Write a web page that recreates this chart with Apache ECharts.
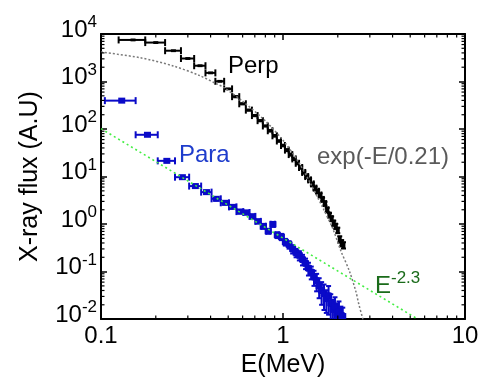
<!DOCTYPE html>
<html>
<head>
<meta charset="utf-8">
<script src="https://cdn.jsdelivr.net/npm/echarts@6/dist/echarts.min.js"></script>
<style>html,body{margin:0;padding:0;background:#fff}#c{width:486px;height:383px}</style>
</head>
<body>
<div id="c"></div>
<script>
// ---- data ----
const xTickLabels = ['0.1', '1', '10'];
const yTickExps = ['-2', '-1', '0', '1', '2', '3', '4'];
const minorMults = [2, 3, 4, 5, 6, 7, 8, 9];

const perpE = [0.15,0.20,0.25,0.30,0.35,0.40,0.45,0.50,0.55,0.60,0.65,0.70,0.75,0.80,0.85,0.90,0.95,1.00,1.05,1.10,1.15,1.20,1.25,1.30,1.35,1.40,1.45,1.50,1.55,1.60,1.65,1.70,1.75,1.80,1.85,1.90,1.95,2.00,2.05,2.10,2.15];
const perpF = [7500,6600,4450,3050,2150,1520,1010,700,480,340,250,192,150,116,92,72,56,45,36,29,23.5,19,15.5,12.2,10,8.5,7.0,5.7,4.9,4.1,3.3,2.7,2.0,1.55,1.3,1.05,0.9,0.74,0.48,0.40,0.36];
const perpErr = [0.02,0.02,0.02,0.02,0.02,0.02,0.02,0.02,0.03,0.03,0.03,0.03,0.03,0.03,0.04,0.04,0.04,0.04,0.05,0.05,0.05,0.05,0.06,0.06,0.06,0.07,0.07,0.08,0.08,0.08,0.09,0.09,0.10,0.10,0.11,0.12,0.12,0.13,0.15,0.15,0.15];

const paraE = [0.13,0.18,0.23,0.28,0.33,0.38,0.43,0.48,0.53,0.58,0.63,0.68,0.73,0.78,0.83,0.88,0.93,0.98,1.03,1.08,1.13,1.18,1.23,1.28,1.33,1.38,1.43,1.48,1.53,1.58,1.63,1.68,1.73,1.78,1.83,1.88,1.93,1.98,2.03,2.08,2.13];
const paraF = [396,75.7,21.4,9.7,6.3,4.7,3.4,2.8,2.3,1.83,1.75,1.45,1.14,0.90,0.71,0.99,0.59,0.54,0.42,0.37,0.30,0.25,0.22,0.18,0.15,0.118,0.098,0.077,0.064,0.050,0.040,0.0345,0.027,0.031,0.0215,0.016,0.018,0.0134,0.0147,0.0122,0.0116];
const paraErr = [0.05,0.05,0.06,0.06,0.07,0.07,0.08,0.08,0.08,0.09,0.09,0.10,0.10,0.12,0.12,0.12,0.14,0.15,0.16,0.18,0.2,0.2,0.22,0.25,0.25,0.3,0.3,0.35,0.4,0.45,0.5,0.55,0.5,0.6,0.55,0.6,0.6,0.6,0.6,0.5,0.5];
const binHalf = 0.025;

// exp(-E/0.21) fit curve
const expE = [0.1,0.164,0.249,0.349,0.43,0.468,0.6,0.8,1.0,1.2,1.397,1.551,1.652,1.875,2.084,2.314,2.518,2.602,2.735,2.8];
const expF = [4170,3170,2130,1330,897,767,385,148,58,22,7.93,3.6,2.24,0.809,0.267,0.104,0.0374,0.0215,0.0106,0.0075];

// E^-2.3 power law, end points
const powE = [0.1, 5.5];
const powF = [102, 0.01];

// ---- build ----
const xMin = 0.1, xMax = 10, yMin = 0.01, yMax = 10000;
const xMinor = [], yMinor = [];
[0.1, 1].forEach(d => minorMults.forEach(m => xMinor.push(m * d)));
[0.01, 0.1, 1, 10, 100, 1000].forEach(d => minorMults.forEach(m => yMinor.push(m * d)));

function errData(E, F, R) {
  return E.map((e, i) => [e, F[i], e - binHalf, e + binHalf, F[i] * (1 - R[i]), F[i] * (1 + R[i])]);
}

function errRender(color, withMarker) {
  return function (params, api) {
    const e = api.value(0), f = api.value(1);
    const c = api.coord([e, f]);
    const pl = api.coord([api.value(2), f]);
    const ph = api.coord([api.value(3), f]);
    const vl = api.coord([e, api.value(4)]);
    const vh = api.coord([e, api.value(5)]);
    const st = { stroke: color, lineWidth: 2 };
    const cap = 3.5, vcap = 2.5;
    const ch = [
      { type: 'line', shape: { x1: pl[0], y1: c[1], x2: ph[0], y2: c[1] }, style: st },
      { type: 'line', shape: { x1: pl[0], y1: c[1] - cap, x2: pl[0], y2: c[1] + cap }, style: st },
      { type: 'line', shape: { x1: ph[0], y1: c[1] - cap, x2: ph[0], y2: c[1] + cap }, style: st },
      { type: 'line', shape: { x1: c[0], y1: vl[1], x2: c[0], y2: vh[1] }, style: st },
      { type: 'line', shape: { x1: c[0] - vcap, y1: vl[1], x2: c[0] + vcap, y2: vl[1] }, style: st },
      { type: 'line', shape: { x1: c[0] - vcap, y1: vh[1], x2: c[0] + vcap, y2: vh[1] }, style: st }
    ];
    if (withMarker) {
      ch.push({ type: 'rect', shape: { x: c[0] - 3.5, y: c[1] - 3, width: 7, height: 6 }, style: { fill: color } });
    }
    return { type: 'group', children: ch };
  };
}

function tickRender(params, api) {
  const cs = params.coordSys;
  const L = cs.x, R = cs.x + cs.width, T = cs.y, B = cs.y + cs.height;
  const st = { stroke: '#000', lineWidth: 1.2 };
  const len = 3.5;
  const ch = [];
  xMinor.forEach(v => {
    const px = api.coord([v, yMin])[0];
    ch.push({ type: 'line', shape: { x1: px, y1: B, x2: px, y2: B - len }, style: st });
    ch.push({ type: 'line', shape: { x1: px, y1: T, x2: px, y2: T + len }, style: st });
  });
  yMinor.forEach(v => {
    const py = api.coord([xMin, v])[1];
    ch.push({ type: 'line', shape: { x1: L, y1: py, x2: L + len, y2: py }, style: st });
    ch.push({ type: 'line', shape: { x1: R, y1: py, x2: R - len, y2: py }, style: st });
  });
  return { type: 'group', children: ch };
}

const FONT = 'Liberation Sans, Arial, sans-serif';
const axisLineStyle = { color: '#000', width: 2 };
const majorTick = { show: true, inside: true, length: 6, lineStyle: { color: '#000', width: 1.5 } };

const chart = echarts.init(document.getElementById('c'), null, { renderer: 'canvas' });
chart.setOption({
  animation: false,
  backgroundColor: '#fff',
  grid: { left: 101, right: 21, top: 34, bottom: 57, containLabel: false },
  xAxis: [
    {
      type: 'log', logBase: 10, min: xMin, max: xMax, position: 'bottom',
      name: 'E(MeV)', nameLocation: 'middle', nameGap: 30,
      nameTextStyle: { fontFamily: FONT, fontSize: 25, color: '#000' },
      axisLine: { show: true, lineStyle: axisLineStyle },
      axisTick: majorTick, splitLine: { show: false }, minorTick: { show: false },
      axisLabel: {
        show: true, margin: 5, fontFamily: FONT, fontSize: 24, color: '#000',
        showMinLabel: true, showMaxLabel: true,
        formatter: v => xTickLabels[Math.round(Math.log10(v)) + 1] || ''
      }
    },
    {
      type: 'log', logBase: 10, min: xMin, max: xMax, position: 'top',
      axisLine: { show: true, lineStyle: axisLineStyle },
      axisTick: majorTick, axisLabel: { show: false }, splitLine: { show: false }
    }
  ],
  yAxis: [
    {
      type: 'log', logBase: 10, min: yMin, max: yMax, position: 'left',
      name: 'X-ray flux (A.U)', nameLocation: 'middle', nameGap: 58, nameRotate: 90,
      nameTextStyle: { fontFamily: FONT, fontSize: 25, color: '#000' },
      axisLine: { show: true, lineStyle: axisLineStyle },
      axisTick: majorTick, splitLine: { show: false },
      axisLabel: {
        show: true, margin: 4, color: '#000', padding: [0, 0, 12, 0],
        showMinLabel: true, showMaxLabel: true,
        formatter: v => '{b|10}{s|' + (yTickExps[Math.round(Math.log10(v)) + 2] || '') + '}',
        rich: {
          b: { fontFamily: FONT, fontSize: 24, color: '#000', lineHeight: 28, verticalAlign: 'bottom' },
          s: { fontFamily: FONT, fontSize: 17, color: '#000', lineHeight: 17, verticalAlign: 'top' }
        }
      }
    },
    {
      type: 'log', logBase: 10, min: yMin, max: yMax, position: 'right',
      axisLine: { show: true, lineStyle: axisLineStyle },
      axisTick: majorTick, axisLabel: { show: false }, splitLine: { show: false }
    }
  ],
  series: [
    {
      type: 'custom', name: 'minorTicks', xAxisIndex: 0, yAxisIndex: 0,
      data: [[1, 1]], renderItem: tickRender, silent: true, z: 5
    },
    {
      type: 'custom', name: 'Perp', xAxisIndex: 0, yAxisIndex: 0, clip: true,
      data: errData(perpE, perpF, perpErr), encode: { x: [0, 2, 3], y: [1, 4, 5] },
      renderItem: errRender('#000000', false), z: 3
    },
    {
      type: 'custom', name: 'Para', xAxisIndex: 0, yAxisIndex: 0, clip: true,
      data: errData(paraE, paraF, paraErr), encode: { x: [0, 2, 3], y: [1, 4, 5] },
      renderItem: errRender('#0a0ac8', true), z: 3
    },
    {
      type: 'line', name: 'exp', xAxisIndex: 0, yAxisIndex: 0, clip: true,
      data: expE.map((e, i) => [e, expF[i]]), showSymbol: false, smooth: 0.3,
      lineStyle: { color: '#7a7a7a', width: 1.5, type: [2, 2] }, z: 4
    },
    {
      type: 'line', name: 'pow', xAxisIndex: 0, yAxisIndex: 0, clip: true,
      data: powE.map((e, i) => [e, powF[i]]), showSymbol: false,
      lineStyle: { color: '#44ee44', width: 1.6, type: [2, 3] }, z: 4
    }
  ],
  graphic: [
    { type: 'text', x: 228, y: 66, style: { text: 'Perp', font: '24px ' + FONT, fill: '#000', verticalAlign: 'middle' } },
    { type: 'text', x: 179, y: 155, style: { text: 'Para', font: '24px ' + FONT, fill: '#1e3ccc', verticalAlign: 'middle' } },
    { type: 'text', x: 317, y: 157, style: { text: 'exp(-E/0.21)', font: '24px ' + FONT, fill: '#5a5a5a', verticalAlign: 'middle' } },
    {
      type: 'text', x: 375, y: 284,
      style: {
        text: '{b|E}{s|-2.3}', verticalAlign: 'middle',
        rich: {
          b: { fontFamily: FONT, fontSize: 24, fill: '#1a6b1a', lineHeight: 28, verticalAlign: 'bottom' },
          s: { fontFamily: FONT, fontSize: 17, fill: '#1a6b1a', lineHeight: 17, verticalAlign: 'top' }
        }
      }
    }
  ]
});
</script>
</body>
</html>
